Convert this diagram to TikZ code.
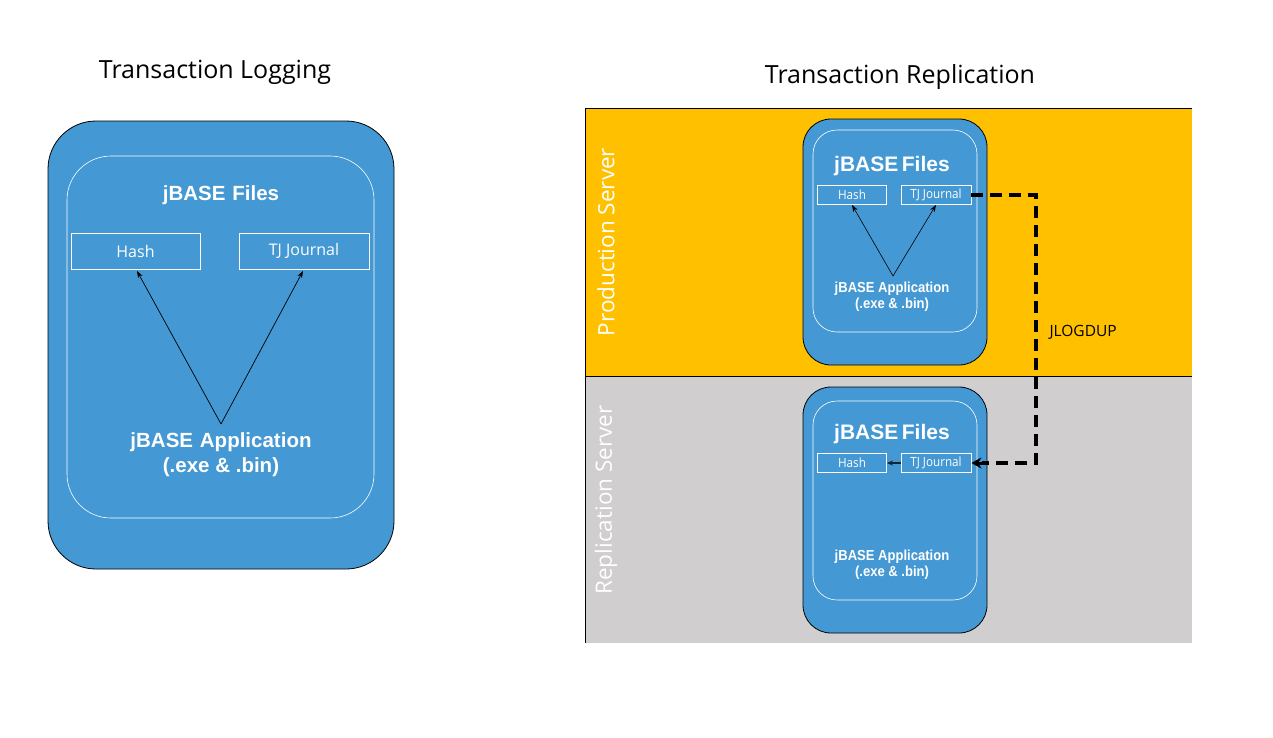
\documentclass[tikz,border=0pt]{standalone}
\usepackage{fontspec}
\setmainfont{Open Sans}
\newfontfamily\arialb{Liberation Sans}
\newfontfamily\arialn[FakeStretch=0.9]{Liberation Sans}
\newfontfamily\segoe{Open Sans}
\newfontfamily\segoen[FakeStretch=0.92]{Open Sans}
\usetikzlibrary{arrows.meta}
\definecolor{jblue}{HTML}{4498D3}
\definecolor{jyellow}{HTML}{FFC000}
\definecolor{jgray}{HTML}{D0CECE}
\begin{document}
\begin{tikzpicture}[x=1pt,y=-1pt,
  outerbox/.style={draw=black,fill=jblue,line width=0.8pt},
  innerbox/.style={draw=white,line width=0.6pt},
  filebox/.style={draw=white,line width=0.8pt,text=white,inner sep=0pt},
  title/.style={font=\segoe\fontsize{25}{28}\selectfont,text=black},
  bigtxt/.style={font=\arialb\bfseries\fontsize{20.5}{24}\selectfont,text=white,align=center},
  rbigtxt/.style={font=\arialb\bfseries\fontsize{21}{24}\selectfont,text=white,align=center},
  apptxt/.style={font=\arialb\bfseries\fontsize{20.5}{25}\selectfont,text=white,align=center},
  smalltxt/.style={font=\arialn\bfseries\fontsize{14.5}{16.5}\selectfont,text=white,align=center},
  lanetxt/.style={font=\segoe\fontsize{22.5}{26}\selectfont,text=white,rotate=90},
  bigfile/.style={filebox,font=\segoe\fontsize{16}{18}\selectfont},
  smallfile/.style={filebox,font=\segoen\fontsize{12.7}{14}\selectfont},
  arr/.style={-{Stealth[length=7pt,width=5pt]},line width=0.7pt,black},
  dasharr/.style={line width=3.4pt,black,dash pattern=on 12pt off 7pt}
]
\useasboundingbox (0,0) rectangle (1273,737);
\fill[white] (0,0) rectangle (1273,737);

% ---------- Left: Transaction Logging ----------
\node[title] (t1) at (215,72) {Transaction Logging};
\draw[outerbox,rounded corners=48pt] (48,121) rectangle (394,569);
\draw[innerbox,rounded corners=44pt] (67,156) rectangle (374,518);
\node[bigtxt] (lf) at (221,195) {jBASE\,\,Files};
\node[bigfile,minimum width=129pt,minimum height=36pt] (lh) at (135.5,251) {Hash};
\node[bigfile,minimum width=130pt,minimum height=36pt] (lj) at (304,251) {TJ Journal};
\coordinate (lapex) at (221,424);
\node[apptxt] (la) at (221,455) {jBASE\,\,Application\\(.exe \& .bin)};
\draw[arr] (lapex) -- (137,271);
\draw[arr] (lapex) -- (303,271);

% ---------- Right: Transaction Replication ----------
\node[title] (t2) at (900,77) {Transaction Replication};
\fill[jyellow] (585,108) rectangle (1192,376);
\fill[jgray] (585,376) rectangle (1192,643);
\draw[black,line width=0.8pt] (1192,108) -- (585,108) -- (585,643);
\draw[black,line width=0.8pt] (585,376) -- (1192,376);
\node[lanetxt] (lp) at (606,242) {Production Server};
\node[lanetxt] (lr) at (606,500) {Replication Server};

% top server box
\draw[outerbox,rounded corners=28pt] (803,119) rectangle (987,365);
\draw[innerbox,rounded corners=24pt] (813,130) rectangle (977,332);
\node[rbigtxt] (pf) at (892,166) {jBASE\,Files};
\node[smallfile,minimum width=69pt,minimum height=19pt] (ph) at (852,195) {Hash};
\node[smallfile,minimum width=70pt,minimum height=19pt] (pj) at (936,195) {TJ Journal};
\coordinate (papex) at (893,276);
\node[smalltxt] (pa) at (892,296.5) {jBASE Application\\(.exe \& .bin)};
\draw[arr,line width=0.6pt] (papex) -- (ph.south);
\draw[arr,line width=0.6pt] (papex) -- (pj.south);

% bottom server box
\draw[outerbox,rounded corners=28pt] (803,387) rectangle (987,633);
\draw[innerbox,rounded corners=24pt] (813,401) rectangle (977,600);
\node[rbigtxt] (rf) at (892,434) {jBASE\,Files};
\node[smallfile,minimum width=69pt,minimum height=19pt] (rh) at (852,463) {Hash};
\node[smallfile,minimum width=70pt,minimum height=19pt] (rj) at (936,463) {TJ Journal};
\node[smalltxt] (ra) at (892,564.5) {jBASE Application\\(.exe \& .bin)};
\draw[-{Stealth[length=6pt,width=5pt]},line width=1.3pt,black!75!jblue] (rj.west) -- (rh.east);

% JLOGDUP dashed connector
\coordinate (c1) at (1036,195);
\coordinate (c2) at (1036,463);
\draw[dasharr] (pj.east) -- (c1) -- (c2) -- ([xshift=11pt]rj.east);
\draw[-{Stealth[length=10pt,width=11pt]},line width=3pt,black] ([xshift=12pt]rj.east) -- (rj.east);
\node[font=\segoe\fontsize{15.5}{18}\selectfont,text=black,anchor=west] (jl) at (1046,332) {JLOGDUP};
\end{tikzpicture}
\end{document}
